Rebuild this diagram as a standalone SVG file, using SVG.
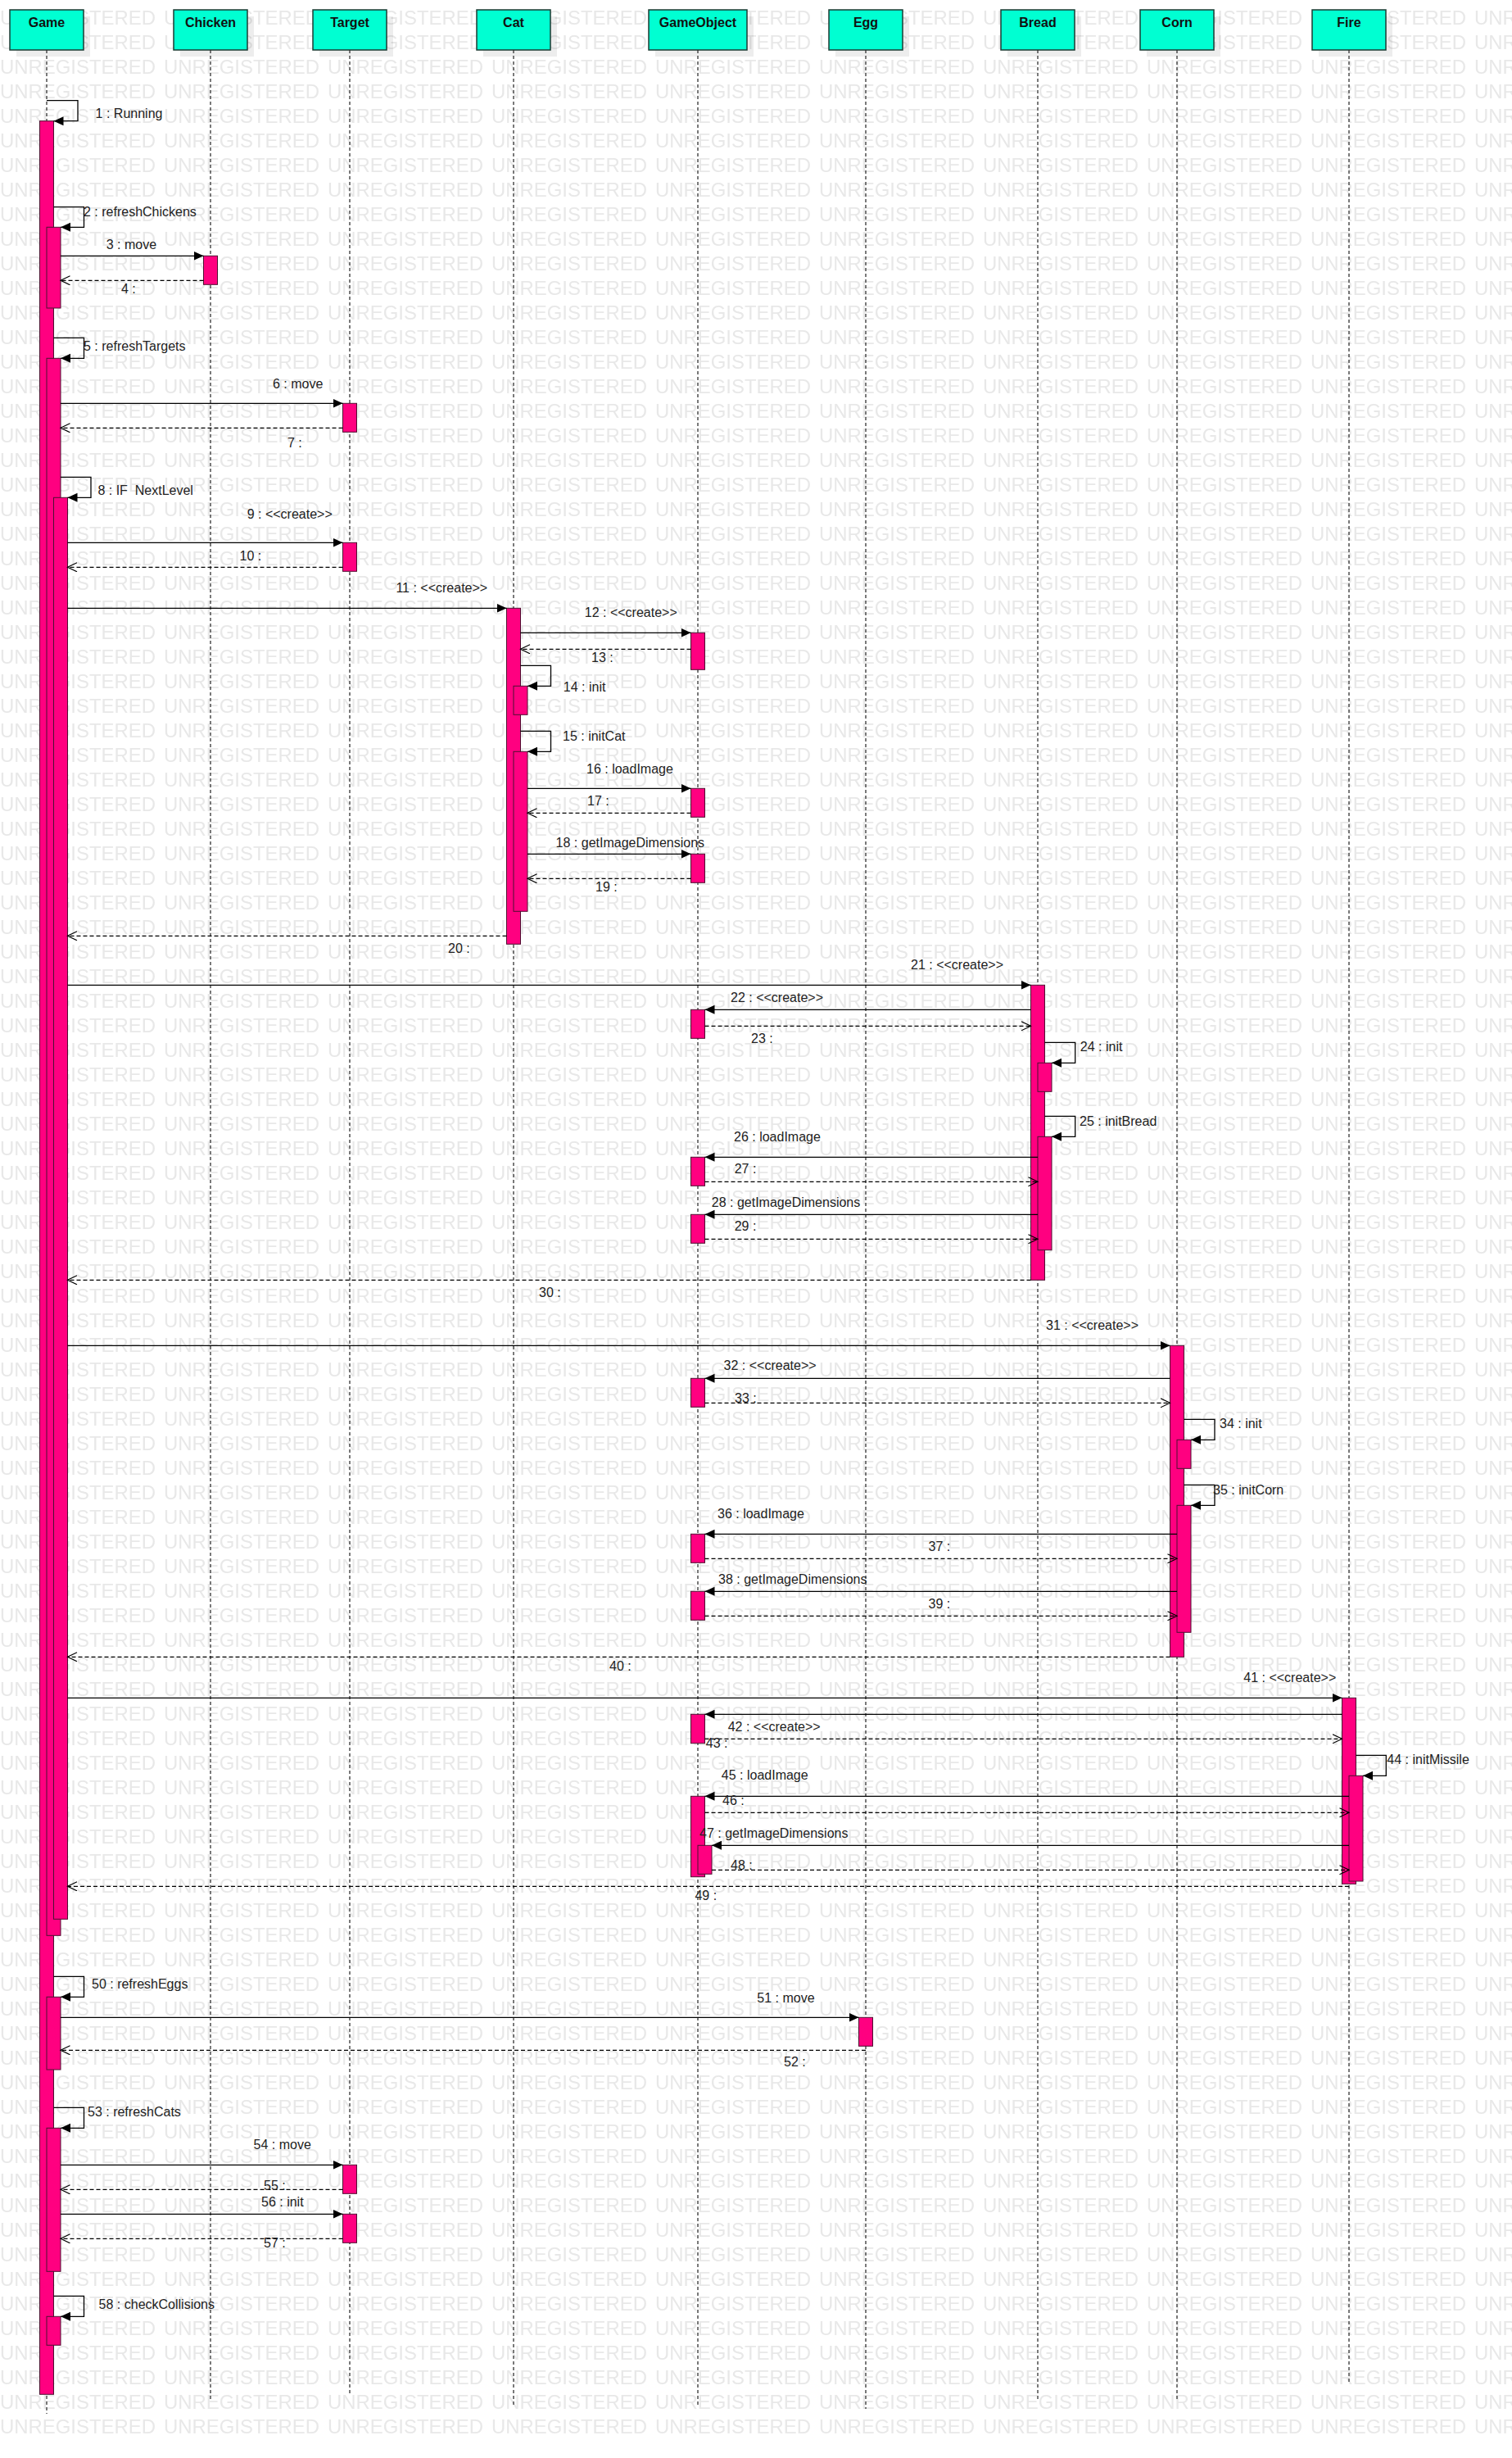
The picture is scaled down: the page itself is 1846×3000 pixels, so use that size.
<svg xmlns="http://www.w3.org/2000/svg" width="1846" height="3000" viewBox="0 0 1846 3000">
<style>
.wm{font-family:'Liberation Sans',Arial,sans-serif;font-size:24px;fill:#e8e8e8}
.sh{fill:#000;fill-opacity:.07}
.hd{fill:#00ffd2;stroke:#1b3b33;stroke-width:1.5}
.hl{font-family:'Liberation Sans',Arial,sans-serif;font-size:16px;font-weight:bold;fill:#111;text-anchor:middle}
.ll{stroke:#333;stroke-width:1.3;stroke-dasharray:4 3;fill:none}
.bar{fill:#ff0080;stroke:#4d1030;stroke-width:1}
.m{stroke:#000;stroke-width:1.3;fill:none;marker-end:url(#fa)}
.r{stroke:#000;stroke-width:1.3;fill:none;stroke-dasharray:5 3;marker-end:url(#oa)}
.t{font-family:'Liberation Sans',Arial,sans-serif;font-size:16px;fill:#222}
</style>
<defs>
<pattern id="wm" patternUnits="userSpaceOnUse" x="0" y="5" width="200" height="30">
<text class="wm" x="0" y="25" textLength="190" lengthAdjust="spacingAndGlyphs">UNREGISTERED</text>
</pattern>
<marker id="fa" markerUnits="userSpaceOnUse" markerWidth="14" markerHeight="13" refX="12" refY="6" orient="auto"><path d="M0,0.5 L12,6 L0,11.5 z" fill="#000"/></marker>
<marker id="oa" markerUnits="userSpaceOnUse" markerWidth="14" markerHeight="13" refX="12" refY="6" orient="auto"><path d="M0.5,0.5 L12,6 L0.5,11.5" fill="none" stroke="#000" stroke-width="1.2"/></marker>
</defs>
<rect x="0" y="0" width="1846" height="3000" fill="#fff"/>
<rect x="0" y="0" width="1846" height="2976" fill="url(#wm)"/>

<g id="Game">
<rect class="sh" x="20" y="20" width="90" height="49"/>
<rect class="hd" x="12" y="12" width="90" height="49"/>
<text class="hl" x="57" y="33">Game</text>
<line class="ll" x1="57" y1="61" x2="57" y2="2946"/>
<rect class="bar" x="48.5" y="147.7" width="17" height="2774.6"/>
<rect class="bar" x="57" y="277.3" width="17" height="98.7"/>
<rect class="bar" x="57" y="437.3" width="17" height="1925"/>
<rect class="bar" x="65.5" y="607.3" width="17" height="1735"/>
<rect class="bar" x="57" y="2437.3" width="17" height="88.7"/>
<rect class="bar" x="57" y="2597.3" width="17" height="175"/>
<rect class="bar" x="57" y="2827.3" width="17" height="35"/>
</g>
<g id="Chicken">
<rect class="sh" x="220" y="20" width="90" height="49"/>
<rect class="hd" x="212" y="12" width="90" height="49"/>
<text class="hl" x="257" y="33">Chicken</text>
<line class="ll" x1="257" y1="61" x2="257" y2="2931"/>
<rect class="bar" x="248.5" y="312.3" width="17" height="35"/>
</g>
<g id="Target">
<rect class="sh" x="390" y="20" width="90" height="49"/>
<rect class="hd" x="382" y="12" width="90" height="49"/>
<text class="hl" x="427" y="33">Target</text>
<line class="ll" x1="427" y1="61" x2="427" y2="2922"/>
<rect class="bar" x="418.5" y="492.3" width="17" height="35"/>
<rect class="bar" x="418.5" y="662.3" width="17" height="35"/>
<rect class="bar" x="418.5" y="2642.3" width="17" height="35"/>
<rect class="bar" x="418.5" y="2702.3" width="17" height="35"/>
</g>
<g id="Cat">
<rect class="sh" x="590" y="20" width="90" height="49"/>
<rect class="hd" x="582" y="12" width="90" height="49"/>
<text class="hl" x="627" y="33">Cat</text>
<line class="ll" x1="627" y1="61" x2="627" y2="2935"/>
<rect class="bar" x="618.5" y="742.3" width="17" height="410"/>
<rect class="bar" x="627" y="837.3" width="17" height="35"/>
<rect class="bar" x="627" y="917.3" width="17" height="195"/>
</g>
<g id="GameObject">
<rect class="sh" x="800" y="20" width="120" height="49"/>
<rect class="hd" x="792" y="12" width="120" height="49"/>
<text class="hl" x="852" y="33">GameObject</text>
<line class="ll" x1="852" y1="61" x2="852" y2="2937"/>
<rect class="bar" x="843.5" y="772.3" width="17" height="45"/>
<rect class="bar" x="843.5" y="962.3" width="17" height="35"/>
<rect class="bar" x="843.5" y="1042.3" width="17" height="35"/>
<rect class="bar" x="843.5" y="1232.3" width="17" height="35"/>
<rect class="bar" x="843.5" y="1412.3" width="17" height="35"/>
<rect class="bar" x="843.5" y="1482.3" width="17" height="35"/>
<rect class="bar" x="843.5" y="1682.3" width="17" height="35"/>
<rect class="bar" x="843.5" y="1872.3" width="17" height="35"/>
<rect class="bar" x="843.5" y="1942.3" width="17" height="35"/>
<rect class="bar" x="843.5" y="2092.3" width="17" height="35.4"/>
<rect class="bar" x="843.5" y="2192.3" width="17" height="98.4"/>
<rect class="bar" x="852" y="2252.3" width="17" height="35"/>
</g>
<g id="Egg">
<rect class="sh" x="1020" y="20" width="90" height="49"/>
<rect class="hd" x="1012" y="12" width="90" height="49"/>
<text class="hl" x="1057" y="33">Egg</text>
<line class="ll" x1="1057" y1="61" x2="1057" y2="2940"/>
<rect class="bar" x="1048.5" y="2462.3" width="17" height="35"/>
</g>
<g id="Bread">
<rect class="sh" x="1230" y="20" width="90" height="49"/>
<rect class="hd" x="1222" y="12" width="90" height="49"/>
<text class="hl" x="1267" y="33">Bread</text>
<line class="ll" x1="1267" y1="61" x2="1267" y2="2930"/>
<rect class="bar" x="1258.5" y="1202.3" width="17" height="360"/>
<rect class="bar" x="1267" y="1297.3" width="17" height="35"/>
<rect class="bar" x="1267" y="1387.3" width="17" height="138.4"/>
</g>
<g id="Corn">
<rect class="sh" x="1400" y="20" width="90" height="49"/>
<rect class="hd" x="1392" y="12" width="90" height="49"/>
<text class="hl" x="1437" y="33">Corn</text>
<line class="ll" x1="1437" y1="61" x2="1437" y2="2930"/>
<rect class="bar" x="1428.5" y="1642.3" width="17" height="380"/>
<rect class="bar" x="1437" y="1757.3" width="17" height="35"/>
<rect class="bar" x="1437" y="1837.3" width="17" height="155"/>
</g>
<g id="Fire">
<rect class="sh" x="1610" y="20" width="90" height="49"/>
<rect class="hd" x="1602" y="12" width="90" height="49"/>
<text class="hl" x="1647" y="33">Fire</text>
<line class="ll" x1="1647" y1="61" x2="1647" y2="2910"/>
<rect class="bar" x="1638.5" y="2072.3" width="17" height="227"/>
<rect class="bar" x="1647" y="2167.3" width="17" height="128.7"/>
</g>

<g id="connectors">
<path class="m" d="M57 122.7 H95 V147.7 H65.5"/>
<path class="m" d="M65.5 252.7 H102.5 V277.3 H74"/>
<path class="m" d="M74 312.3 H248.5"/>
<path class="r" d="M248.5 342.3 H74"/>
<path class="m" d="M65.5 412.3 H102.5 V437.3 H74"/>
<path class="m" d="M74 492.3 H418.5"/>
<path class="r" d="M418.5 522.3 H74"/>
<path class="m" d="M74 582.3 H111 V607.3 H82.5"/>
<path class="m" d="M82.5 662.3 H418.5"/>
<path class="r" d="M418.5 692.3 H82.5"/>
<path class="m" d="M82.5 742.3 H618.5"/>
<path class="m" d="M635.5 772.3 H843.5"/>
<path class="r" d="M843.5 792.3 H635.5"/>
<path class="m" d="M635.5 812.3 H672.5 V837.3 H644"/>
<path class="m" d="M635.5 892.3 H672.5 V917.3 H644"/>
<path class="m" d="M644 962.3 H843.5"/>
<path class="r" d="M843.5 992.3 H644"/>
<path class="m" d="M644 1042.3 H843.5"/>
<path class="r" d="M843.5 1072.3 H644"/>
<path class="r" d="M618.5 1142.3 H82.5"/>
<path class="m" d="M82.5 1202.3 H1258.5"/>
<path class="m" d="M1258.5 1232.3 H860.5"/>
<path class="r" d="M860.5 1252.3 H1258.5"/>
<path class="m" d="M1275.5 1272.3 H1312.7 V1297.3 H1284"/>
<path class="m" d="M1275.5 1362.3 H1312.7 V1387.3 H1284"/>
<path class="m" d="M1267 1412.3 H860.5"/>
<path class="r" d="M860.5 1442.3 H1267"/>
<path class="m" d="M1267 1482.3 H860.5"/>
<path class="r" d="M860.5 1512.3 H1267"/>
<path class="r" d="M1258.5 1562.3 H82.5"/>
<path class="m" d="M82.5 1642.3 H1428.5"/>
<path class="m" d="M1428.5 1682.3 H860.5"/>
<path class="r" d="M860.5 1712.3 H1428.5"/>
<path class="m" d="M1445.5 1732.3 H1483 V1757.3 H1454"/>
<path class="m" d="M1445.5 1812.3 H1483 V1837.3 H1454"/>
<path class="m" d="M1437 1872.3 H860.5"/>
<path class="r" d="M860.5 1902.3 H1437"/>
<path class="m" d="M1437 1942.3 H860.5"/>
<path class="r" d="M860.5 1972.3 H1437"/>
<path class="r" d="M1428.5 2022.3 H82.5"/>
<path class="m" d="M82.5 2072.3 H1638.5"/>
<path class="m" d="M1638.5 2092.3 H860.5"/>
<path class="r" d="M860.5 2122.3 H1638.5"/>
<path class="m" d="M1655.5 2142.3 H1692.3 V2167.3 H1664"/>
<path class="m" d="M1647 2192.3 H860.5"/>
<path class="r" d="M860.5 2212.3 H1647"/>
<path class="m" d="M1647 2252.3 H869"/>
<path class="r" d="M869 2282.3 H1647"/>
<path class="r" d="M1647 2302.3 H82.5"/>
<path class="m" d="M65.5 2412.3 H102.5 V2437.3 H74"/>
<path class="m" d="M74 2462.3 H1048.5"/>
<path class="r" d="M1057 2502.3 H74"/>
<path class="m" d="M65.5 2572.3 H102.5 V2597.3 H74"/>
<path class="m" d="M74 2642.3 H418.5"/>
<path class="r" d="M418.5 2672.3 H74"/>
<path class="m" d="M74 2702.3 H418.5"/>
<path class="r" d="M418.5 2732.3 H74"/>
<path class="m" d="M65.5 2802.3 H102.5 V2827.3 H74"/>

<text class="t" x="116.6" y="144">1 : Running</text>
<text class="t" x="102" y="264">2 : refreshChickens</text>
<text class="t" x="129.7" y="304">3 : move</text>
<text class="t" x="148" y="358">4 :</text>
<text class="t" x="102" y="427.7">5 : refreshTargets</text>
<text class="t" x="333" y="474">6 : move</text>
<text class="t" x="351" y="545.7">7 :</text>
<text class="t" x="119.4" y="604" xml:space="preserve" style="white-space:pre">8 : IF  NextLevel</text>
<text class="t" x="301.7" y="633.3">9 : &lt;&lt;create&gt;&gt;</text>
<text class="t" x="292.6" y="684">10 :</text>
<text class="t" x="483.4" y="723.3">11 : &lt;&lt;create&gt;&gt;</text>
<text class="t" x="713.8" y="753.3">12 : &lt;&lt;create&gt;&gt;</text>
<text class="t" x="722" y="808.3">13 :</text>
<text class="t" x="687.8" y="844">14 : init</text>
<text class="t" x="687" y="904">15 : initCat</text>
<text class="t" x="716" y="944">16 : loadImage</text>
<text class="t" x="717" y="982.7">17 :</text>
<text class="t" x="678.6" y="1034">18 : getImageDimensions</text>
<text class="t" x="727" y="1088.3">19 :</text>
<text class="t" x="547" y="1163.3">20 :</text>
<text class="t" x="1112" y="1183.3">21 : &lt;&lt;create&gt;&gt;</text>
<text class="t" x="892" y="1222.7">22 : &lt;&lt;create&gt;&gt;</text>
<text class="t" x="917" y="1273.3">23 :</text>
<text class="t" x="1318.8" y="1283.3">24 : init</text>
<text class="t" x="1318" y="1374">25 : initBread</text>
<text class="t" x="896" y="1392.7">26 : loadImage</text>
<text class="t" x="896.7" y="1431.7">27 :</text>
<text class="t" x="868.8" y="1472.7">28 : getImageDimensions</text>
<text class="t" x="896.7" y="1501.7">29 :</text>
<text class="t" x="658" y="1583">30 :</text>
<text class="t" x="1277" y="1623.3">31 : &lt;&lt;create&gt;&gt;</text>
<text class="t" x="883.6" y="1671.7">32 : &lt;&lt;create&gt;&gt;</text>
<text class="t" x="897" y="1711.7">33 :</text>
<text class="t" x="1489" y="1743.3">34 : init</text>
<text class="t" x="1481" y="1823.5">35 : initCorn</text>
<text class="t" x="876" y="1853.3">36 : loadImage</text>
<text class="t" x="1133.6" y="1893.3">37 :</text>
<text class="t" x="877" y="1933.3">38 : getImageDimensions</text>
<text class="t" x="1133.6" y="1963.3">39 :</text>
<text class="t" x="744" y="2039">40 :</text>
<text class="t" x="1518.3" y="2053.3">41 : &lt;&lt;create&gt;&gt;</text>
<text class="t" x="888.7" y="2113.3">42 : &lt;&lt;create&gt;&gt;</text>
<text class="t" x="861.8" y="2133.3">43 :</text>
<text class="t" x="1693.3" y="2153.3">44 : initMissile</text>
<text class="t" x="880.8" y="2171.7">45 : loadImage</text>
<text class="t" x="882" y="2202.7">46 :</text>
<text class="t" x="854" y="2243.3">47 : getImageDimensions</text>
<text class="t" x="892" y="2282.3">48 :</text>
<text class="t" x="848.4" y="2319">49 :</text>
<text class="t" x="112" y="2427.3">50 : refreshEggs</text>
<text class="t" x="924.3" y="2444">51 : move</text>
<text class="t" x="957" y="2521.7">52 :</text>
<text class="t" x="107" y="2583.3">53 : refreshCats</text>
<text class="t" x="309.6" y="2623.3">54 : move</text>
<text class="t" x="322" y="2673.3">55 :</text>
<text class="t" x="319" y="2693.3">56 : init</text>
<text class="t" x="322" y="2742.7">57 :</text>
<text class="t" x="120.6" y="2817.7">58 : checkCollisions</text>
</g>
</svg>
